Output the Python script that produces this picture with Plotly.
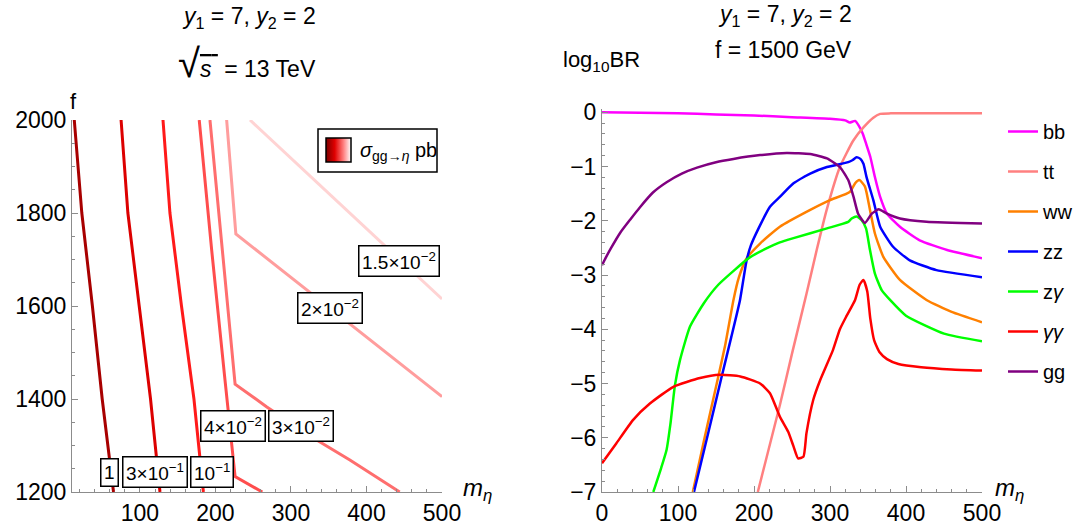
import base64
import plotly.graph_objects as go

W, H = 1078, 529
FONT = "Liberation Sans, Arial, sans-serif"

# ---------------- Left panel: contour lines of sigma(gg->eta) [pb] ----------------
contour_labels = ["1", "3×10<sup>−1</sup>", "10<sup>−1</sup>", "4×10<sup>−2</sup>",
                  "3×10<sup>−2</sup>", "2×10<sup>−2</sup>", "1.5×10<sup>−2</sup>"]
contour_m = [
    [13, 23, 37, 50, 65],
    [75, 84, 99, 114, 126.5],
    [130.5, 139.7, 155, 171.5, 184],
    [178.5, 195, 212.6, 226, 262],
    [192.7, 210, 226, 268, 334, 378, 444],
    [214.8, 227, 500],
    [245.7, 500],
]
contour_f = [
    [2000, 1800, 1600, 1400, 1200],
    [2000, 1800, 1600, 1400, 1200],
    [2000, 1800, 1600, 1400, 1200],
    [2000, 1720, 1441, 1233, 1200],
    [2000, 1700, 1432, 1383, 1312, 1269, 1200],
    [2000, 1755, 1405],
    [2000, 1615],
]
contour_colors = ["#a80000", "#dc0000", "#ff1a1a", "#ff4d4d", "#ff6e6e", "#ff9d9d", "#ffd3d3"]
label_m = [60.3, 119.5, 195.5, 223.6, 313.5, 351.7, 442.6]
label_f = [1243, 1243, 1243, 1342, 1342, 1596, 1696]

# ---------------- Right panel: log10 BR vs m_eta (f = 1500 GeV) ----------------
channels = ["bb", "tt", "ww", "zz", "z<i>γ</i>", "<i>γγ</i>", "gg"]
channel_colors = ["#ff00ff", "#ff8080", "#ff8000", "#0000ff", "#00ff00", "#ff0000", "#800080"]

m_bb = [0, 50, 100, 150, 200, 250, 300, 320, 326, 333, 338, 343, 348, 353, 359, 366, 375, 392, 418, 454, 500]
br_bb = [0, -0.01, -0.02, -0.04, -0.06, -0.09, -0.12, -0.15, -0.19, -0.16, -0.25, -0.39, -0.6, -0.82,
         -1.19, -1.56, -1.87, -2.11, -2.36, -2.54, -2.69]

m_tt = [205, 234, 250, 269, 282.5, 295.6, 313, 330.7, 344, 357, 366, 380, 500]
br_tt = [-7, -5.4, -4.45, -3.35, -2.54, -1.8, -1.01, -0.52, -0.28, -0.1, -0.03, -0.02, -0.02]

m_ww = [119.5, 135, 151, 162, 173, 180, 190, 208, 234, 274, 300, 326, 333, 338.6, 346, 352.6, 359,
        370, 392, 427, 460, 500]
br_ww = [-7, -6, -5, -4.3, -3.46, -3.05, -2.7, -2.42, -2.11, -1.8, -1.62, -1.47, -1.31, -1.25, -1.37,
         -1.8, -2.23, -2.66, -3.09, -3.46, -3.68, -3.87]

m_zz = [121, 140, 157.5, 170, 181.6, 190, 196, 206, 221, 234, 252, 274, 296, 324, 330, 335, 340, 344,
        348, 357, 366, 383, 405, 440, 500]
br_zz = [-7, -5.9, -4.87, -4.15, -3.46, -2.75, -2.45, -2.14, -1.74, -1.56, -1.31, -1.13, -1.01, -0.92,
         -0.88, -0.83, -0.86, -0.95, -1.19, -1.62, -2.11, -2.48, -2.73, -2.91, -3.04]

m_za = [67.5, 78, 85, 90, 96, 102.6, 115.8, 134, 153, 175, 194, 215, 234, 252, 296, 324, 328.5,
        335, 341.7, 347.4, 352.6, 359, 368, 379, 400, 450, 500]
br_za = [-7, -6.55, -6.22, -5.75, -5.03, -4.57, -3.95, -3.52, -3.18, -2.9, -2.68, -2.52, -2.4, -2.32,
         -2.14, -2.02, -1.96, -1.92, -1.99, -2.14, -2.54, -2.97, -3.28, -3.46, -3.75, -4.08, -4.22]

m_aa = [0, 19, 41, 63, 94, 129, 155, 182, 208, 221, 234, 245, 252, 258, 265, 269, 278, 287, 304, 313,
        322, 333, 339, 344, 349, 353, 358, 365, 375, 390, 420, 460, 500]
br_aa = [-6.47, -6.1, -5.67, -5.37, -5.06, -4.9, -4.84, -4.87, -5.0, -5.18, -5.61, -5.89, -6.16, -6.38,
         -6.35, -5.92, -5.3, -4.94, -4.38, -4.0, -3.75, -3.46, -3.18, -3.09, -3.3, -3.8, -4.2, -4.42,
         -4.55, -4.64, -4.7, -4.74, -4.76]

m_gg = [0, 5, 12, 24, 37, 50, 67, 85, 105, 125, 150, 173, 208, 243, 274, 296, 313, 324, 331, 337, 346,
        355, 364, 375, 392, 427, 500]
br_gg = [-2.82, -2.68, -2.5, -2.22, -1.98, -1.75, -1.48, -1.29, -1.13, -1.02, -0.92, -0.86, -0.79,
         -0.75, -0.77, -0.85, -1.01, -1.25, -1.56, -1.87, -2.04, -1.87, -1.79, -1.87, -1.96, -2.02, -2.05]

series_m = [m_bb, m_tt, m_ww, m_zz, m_za, m_aa, m_gg]
series_br = [br_bb, br_tt, br_ww, br_zz, br_za, br_aa, br_gg]


def px(x):
    return x / W


def py(y):
    return 1 - y / H


fig = go.Figure()

for m, f, c in zip(contour_m, contour_f, contour_colors):
    fig.add_trace(go.Scatter(x=m, y=f, mode="lines", line=dict(color=c, width=3),
                             showlegend=False, xaxis="x", yaxis="y", hoverinfo="skip"))

for i, (name, c, m, br) in enumerate(zip(channels, channel_colors, series_m, series_br)):
    fig.add_trace(go.Scatter(x=m, y=br, mode="lines", name=name,
                             line=dict(color=c, width=2.5, shape="spline", smoothing=0.5),
                             legendgroup=f"g{i}", xaxis="x2", yaxis="y2"))

axis_common = dict(showline=True, linecolor="#8c8c8c", linewidth=1, showgrid=False, zeroline=False,
                   ticks="inside", ticklen=6, tickcolor="#8c8c8c", tickwidth=1,
                   tickfont=dict(family=FONT, size=23, color="black"), automargin=False)

fig.update_layout(
    width=W, height=H, margin=dict(l=0, r=0, t=0, b=0, pad=0, autoexpand=False),
    autosize=False,
    paper_bgcolor="white", plot_bgcolor="white",
    font=dict(family=FONT, color="black"),
    xaxis=dict(domain=[px(72), px(442)], range=[10, 500], tick0=0, dtick=100, anchor="y",
               minor=dict(dtick=20, ticks="inside", ticklen=3, tickcolor="#8c8c8c"), **axis_common),
    yaxis=dict(domain=[py(492), py(120)], range=[1200, 2000], tick0=0, dtick=200, anchor="x",
               minor=dict(dtick=50, ticks="inside", ticklen=3, tickcolor="#8c8c8c"), **axis_common),
    xaxis2=dict(domain=[px(602), px(982)], range=[0, 500], tick0=0, dtick=100, anchor="y2",
                minor=dict(dtick=20, ticks="inside", ticklen=3, tickcolor="#8c8c8c"), **axis_common),
    yaxis2=dict(domain=[py(492), py(109)], range=[-7, 0.06], tick0=0, dtick=1, anchor="x2",
                minor=dict(dtick=0.2, ticks="inside", ticklen=3, tickcolor="#8c8c8c"), **axis_common),
    legend=dict(x=px(1003), y=py(112), xanchor="left", yanchor="top", tracegroupgap=11,
                font=dict(family=FONT, size=20, color="black"), itemwidth=30,
                bgcolor="rgba(0,0,0,0)"),
    showlegend=True,
)

annotations = []
for t, m, f in zip(contour_labels, label_m, label_f):
    annotations.append(dict(x=m, y=f, xref="x", yref="y", text=t, showarrow=False,
                            font=dict(family=FONT, size=19, color="black"),
                            bgcolor="white", bordercolor="black", borderwidth=1.5, borderpad=2.5))

def paper_text(x, y, text, size=23, xanchor="center"):
    annotations.append(dict(x=px(x), y=py(y), xref="paper", yref="paper", text=text, showarrow=False,
                            xanchor=xanchor, yanchor="middle",
                            font=dict(family=FONT, size=size, color="black")))

paper_text(249, 18, "<i>y</i><sub>1</sub> = 7, <i>y</i><sub>2</sub> = 2")
paper_text(247, 63, "<span style='font-size:40px'>√</span><span style='text-decoration:overline'><i>s</i> </span> = 13 TeV")
paper_text(785, 15, "<i>y</i><sub>1</sub> = 7, <i>y</i><sub>2</sub> = 2")
paper_text(783, 50, "f = 1500 GeV")
paper_text(601, 61, "log<sub>10</sub>BR", size=22)
paper_text(73, 101, "f", size=22)
paper_text(477, 489, "<i>m</i><sub><i>η</i></sub>", size=24)
paper_text(1009, 489, "<i>m</i><sub><i>η</i></sub>", size=24)
# legend label for the cross-section colour scale
paper_text(358, 151, "<i>σ</i><sub>gg→<i>η</i></sub> pb", size=20, xanchor="left")
fig.update_layout(annotations=annotations)

# legend box + gradient swatch
fig.add_shape(type="rect", xref="paper", yref="paper", x0=px(318), x1=px(437), y0=py(172), y1=py(129),
              line=dict(color="black", width=1.5), fillcolor="white", layer="below")
svg = ('<svg xmlns="http://www.w3.org/2000/svg" width="100" height="100" preserveAspectRatio="none">'
       '<defs><linearGradient id="g" x1="0" y1="0" x2="1" y2="0">'
       '<stop offset="0" stop-color="#7a0000"/><stop offset="0.35" stop-color="#e00000"/>'
       '<stop offset="0.7" stop-color="#ff8080"/><stop offset="1" stop-color="#ffffff"/>'
       '</linearGradient></defs><rect width="100" height="100" fill="url(#g)"/></svg>')
src = "data:image/svg+xml;base64," + base64.b64encode(svg.encode()).decode()
fig.add_layout_image(dict(source=src, xref="paper", yref="paper", x=px(326), y=py(138),
                          sizex=px(351) - px(326), sizey=py(138) - py(162), sizing="stretch",
                          xanchor="left", yanchor="top", layer="above"))
fig.add_shape(type="rect", xref="paper", yref="paper", x0=px(326), x1=px(351), y0=py(162), y1=py(138),
              line=dict(color="black", width=1.5))

fig.write_html("out.html")
